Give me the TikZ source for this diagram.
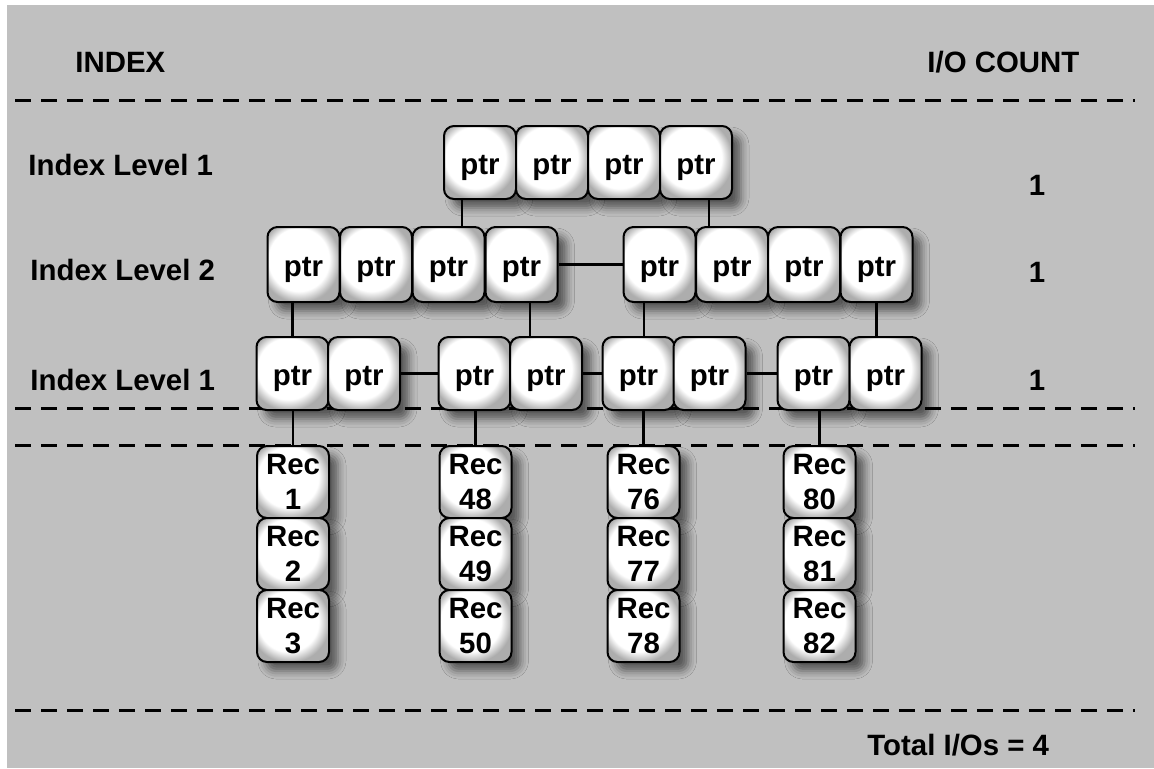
\documentclass[tikz,border=0pt]{standalone}
\usepackage{fontspec}
\setmainfont{Liberation Sans}
\usetikzlibrary{calc,shadows.blur}

\pgfdeclareradialshading{bevel}{\pgfpoint{-5bp}{5bp}}{color(0bp)=(white); color(21bp)=(white); color(28bp)=(black!32); color(60bp)=(black!32)}

\begin{document}
\begin{tikzpicture}[x=0.5pt,y=-0.5pt,
    every node/.style={font=\bfseries\fontsize{14.7}{17.5}\selectfont, inner sep=0pt},
    box/.style={draw, line width=1pt, rounded corners=5pt, shading=bevel,
      minimum width=36pt, minimum height=36.5pt,
      blur shadow={shadow xshift=4.5pt, shadow yshift=-4.5pt, shadow blur radius=4pt, shadow opacity=55}},
    ptrbox/.style={box, text height=11.5pt, text depth=0pt},
    recbox/.style={box, align=center, minimum height=36pt},
    sep/.style={line width=1.5pt, dash pattern=on 8pt off 5pt},
    link/.style={line width=1.2pt}]
    \definecolor{bgc}{RGB}{192,192,192}

    \useasboundingbox (0,0) rectangle (1154,768);
    \fill[bgc] (7,5) rectangle (1154,768);

    % separators
    \draw[sep] (15,100) -- (1135,100);
    \draw[sep] (15,408) -- (1135,408);
    \draw[sep] (15,445) -- (1135,445);
    \draw[sep] (15,710) -- (1135,710);

    % headings
    \node[anchor=base west] (hidx) at (75,72) {INDEX};
    \node[anchor=base west] (hio) at (927,72) {I/O COUNT};
    \node[anchor=base west] (lv1) at (28,175) {Index Level 1};
    \node[anchor=base west] (lv2) at (30,280) {Index Level 2};
    \node[anchor=base west] (lv3) at (30,390) {Index Level 1};
    \node[anchor=base] (n1) at (1037,195) {1};
    \node[anchor=base] (n2) at (1037,282) {1};
    \node[anchor=base] (n3) at (1037,390) {1};
    \node[anchor=base west] (tot) at (867,755) {Total I/Os = 4};

    % index level 1 (top)
    \foreach \i/\x in {1/480,2/552,3/624,4/696}
      \node[ptrbox] (t\i) at (\x,162.5) {ptr};

    % index level 2
    \foreach \i/\x in {1/303.5,2/376,3/448.5,4/521.5}
      \node[ptrbox, minimum height=37.5pt] (la\i) at (\x,264.5) {ptr};
    \foreach \i/\x in {1/659.5,2/732,3/804,4/876.5}
      \node[ptrbox, minimum height=37.5pt] (lb\i) at (\x,264.5) {ptr};

    % index level 1 (leaves)
    \foreach \g/\xa/\xb in {a/292.5/364,b/474.5/546,c/638.5/709.5,d/813.5/885.5}{
      \node[ptrbox] (p\g1) at (\xa,373.5) {ptr};
      \node[ptrbox] (p\g2) at (\xb,373.5) {ptr};
    }

    % records
    \foreach \c/\x/\ra/\rb/\rc in {a/293/1/2/3,b/475.5/48/49/50,c/643.5/76/77/78,d/819.5/80/81/82}{
      \node[recbox] (r\c1) at (\x,482) {Rec\\\ra};
      \node[recbox] (r\c2) at (\x,554) {Rec\\\rb};
      \node[recbox] (r\c3) at (\x,626) {Rec\\\rc};
    }

    % links
    \coordinate (ct1) at ($(t1.south)+(-18,0)$);
    \coordinate (ct4) at ($(t4.south)+(13,0)$);
    \draw[link] (ct1) -- (ct1 |- la3.north);
    \draw[link] (ct4) -- (ct4 |- lb2.north);
    \draw[link] (la4.east) -- (lb1.west);

    \coordinate (cla4) at ($(la4.south)+(8.5,0)$);
    \coordinate (clb1) at ($(lb1.south)+(-15.5,0)$);
    \draw[link] (pa1.north |- la1.south) -- (pa1.north);
    \draw[link] (cla4) -- (cla4 |- pb2.north);
    \draw[link] (clb1) -- (clb1 |- pc1.north);
    \draw[link] (lb4.south) -- (lb4.south |- pd2.north);

    \draw[link] (pa2.east) -- (pb1.west);
    \draw[link] (pb2.east) -- (pc1.west);
    \draw[link] (pc2.east) -- (pd1.west);

    \foreach \g in {a,b,c,d}
      \draw[link] (r\g1.north |- p\g1.south) -- (r\g1.north);
  \end{tikzpicture}
\end{document}
